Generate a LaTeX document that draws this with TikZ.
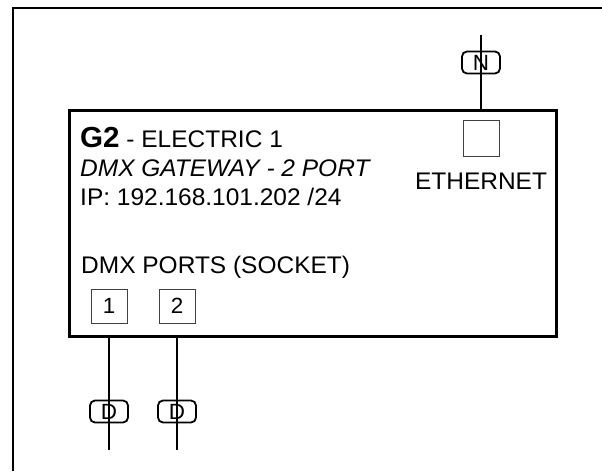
\documentclass[tikz,border=0pt]{standalone}
\usepackage{fontspec}
\setmainfont{Liberation Sans}[FakeStretch=1.02]
\begin{document}
\begin{tikzpicture}[x=1pt,y=-1pt,
  txt/.style={inner sep=0pt,anchor=base west,font=\fontsize{24}{27}\selectfont},
  portbox/.style={draw=black!75,line width=1pt,minimum width=36pt,minimum height=34pt,inner sep=0pt,font=\fontsize{22}{24}\selectfont},
  connbox/.style={draw,line width=1.8pt,rounded corners=5pt,minimum width=38pt,minimum height=22pt,inner sep=0pt,font=\fontsize{22}{22}\selectfont},
  wire/.style={line width=1.8pt}]
\useasboundingbox (0,0) rectangle (602,471);
% outer frame
\draw[line width=2pt] (13,471) -- (13,8) -- (602,8);
% main box
\node[draw,line width=3pt,minimum width=487pt,minimum height=226pt,inner sep=0pt,anchor=north west] (main) at (68,109) {};
% texts
\node[txt] (t1) at (80,147) {{\fontsize{29}{29}\selectfont\textbf{G2}} - ELECTRIC 1};
\node[txt] (t2) at (80,176) {\textit{DMX GATEWAY - 2 PORT}};
\node[txt] (t3) at (80,205) {IP: 192.168.101.202 /24};
\node[txt] (t4) at (81,273) {DMX PORTS (SOCKET)};
\node[txt,anchor=base] (eth) at (481,189) {ETHERNET};
% ethernet socket
\node[draw=black!75,line width=1pt,minimum width=36pt,minimum height=36pt,inner sep=0pt] (es) at (481,138) {};
% ports
\node[portbox] (p1) at (109,306) {1};
\node[portbox] (p2) at (177,306) {2};
% N connector
\coordinate (ntop) at (481,35);
\coordinate (nbot) at (481,109);
\draw[wire] (ntop) -- (nbot);
\node[connbox] (n) at (481,62.5) {N};
% D connectors
\coordinate (d1top) at (109,335);
\coordinate (d1bot) at (109,450);
\coordinate (d2top) at (177,335);
\coordinate (d2bot) at (177,450);
\draw[wire] (d1top) -- (d1bot);
\draw[wire] (d2top) -- (d2bot);
\node[connbox] (d1) at (109,411.5) {D};
\node[connbox] (d2) at (177,411.5) {D};
\end{tikzpicture}
\end{document}
